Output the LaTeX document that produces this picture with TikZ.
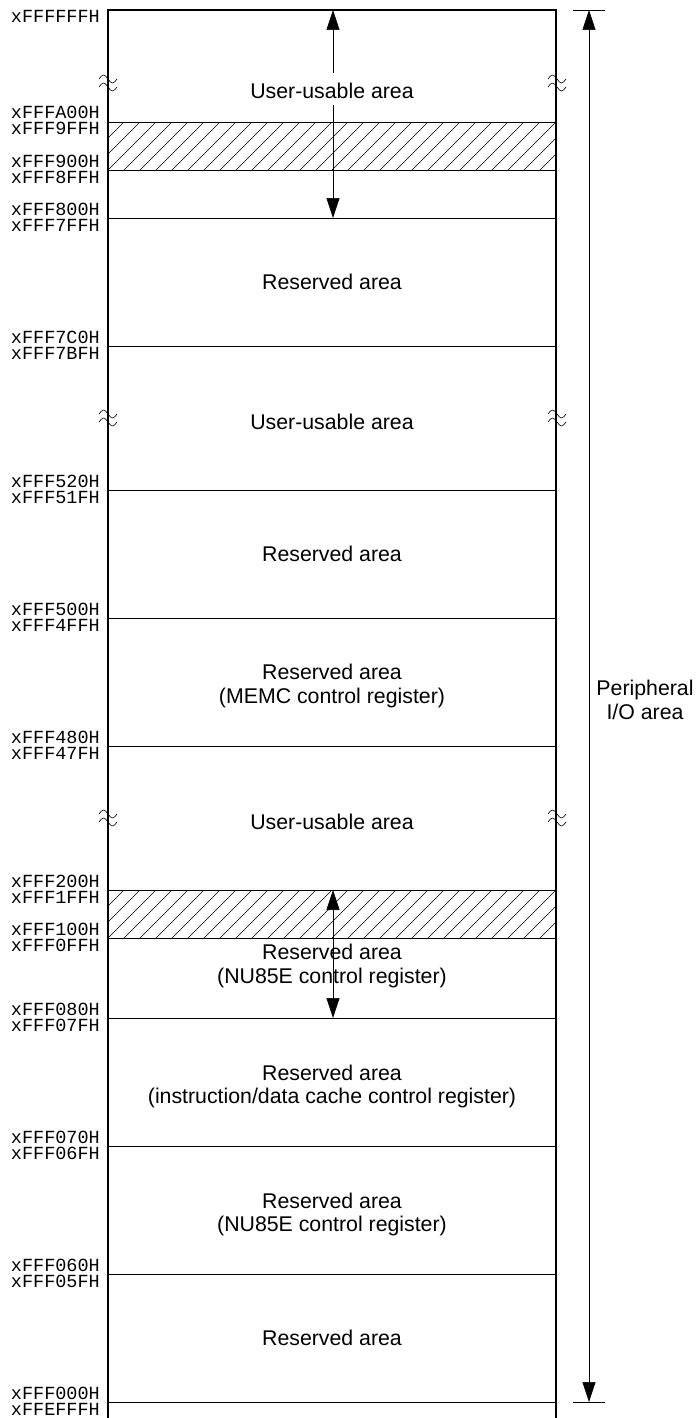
\documentclass[tikz,border=0pt]{standalone}
\usepackage{fontspec}
\setmainfont{Liberation Sans}
\newfontfamily\addrfont{Liberation Mono}
\usetikzlibrary{arrows.meta}
\begin{document}
\begin{tikzpicture}[x=1pt,y=-1pt,
  frame/.style={line width=1.8pt},
  sepline/.style={line width=0.8pt},
  area/.style={font=\fontsize{21.3}{23.5}\selectfont, align=center, inner sep=0pt},
  addr/.style={font=\addrfont\fontsize{18.5}{18.5}\selectfont, anchor=base east, inner sep=0pt},
  tip/.tip={Triangle[width=13pt,length=20pt]},
  dimline/.style={line width=0.6pt, draw=black},
  hatchline/.style={line width=0.5pt},
  brkline/.style={line width=0.6pt},
  brkmark/.pic={
    \draw[brkline] (-9,-4) sin (-4.5,-8) cos (0,-4) sin (4.5,0) cos (9,-4);
    \draw[brkline] (-9,4) sin (-4.5,0) cos (0,4) sin (4.5,8) cos (9,4);
  }]
\useasboundingbox (0,0) rectangle (696,1418);

% hatched bands
\foreach \ya/\yb in {122/170, 890/938}{
  \begin{scope}
    \clip (108,\ya) rectangle (556,\yb);
    \foreach \x in {44,60,...,572} \draw[hatchline] (\x,\yb) -- (\x+48,\ya);
  \end{scope}
}

% separator lines
\foreach \y in {122,170,218,346,490,618,746,890,938,1018,1146,1274,1402}
  \draw[sepline] (108,\y) -- (556,\y);

% frame
\draw[frame] (108,1418) -- (108,10) -- (556,10) -- (556,1418);

% break marks
\foreach \y in {83,418,818}{
  \pic at (108,\y) {brkmark};
  \pic at (557,\y) {brkmark};
}

% address labels
\node[addr] (a0) at (100,23) {xFFFFFFH};
\foreach \y/\up/\lo in {122/xFFFA00H/xFFF9FFH, 170/xFFF900H/xFFF8FFH, 218/xFFF800H/xFFF7FFH,
  346/xFFF7C0H/xFFF7BFH, 490/xFFF520H/xFFF51FH, 618/xFFF500H/xFFF4FFH, 746/xFFF480H/xFFF47FH,
  890/xFFF200H/xFFF1FFH, 938/xFFF100H/xFFF0FFH, 1018/xFFF080H/xFFF07FH, 1146/xFFF070H/xFFF06FH,
  1274/xFFF060H/xFFF05FH, 1402/xFFF000H/xFFEFFFH}{
  \node[addr] (u\y) at (100,\y-3) {\up};
  \node[addr] (l\y) at (100,\y+13) {\lo};
}

% area texts
\node[area, anchor=base] (t1) at (332,99) {User-usable area};
\node[area, anchor=base] (t2) at (332,289) {Reserved area};
\node[area, anchor=base] (t3) at (332,429) {User-usable area};
\node[area, anchor=base] (t4) at (332,561) {Reserved area};
\node[area] (t5) at (332,686) {Reserved area\\(MEMC control register)};
\node[area] (t7) at (332,1086.5) {Reserved area\\(instruction/data cache control register)};
\node[area] (t8) at (332,1214.5) {Reserved area\\(NU85E control register)};
\node[area, anchor=base] (t9) at (332,1345) {Reserved area};
\node[area, anchor=base] (t10) at (332,829) {User-usable area};

% upper inner arrow (broken around text)
\coordinate (ua) at (333,10);
\coordinate (ua1) at (333,73);
\coordinate (ub1) at (333,105);
\coordinate (ub) at (333,218);
\draw[dimline, tip-] (ua) -- (ua1);
\draw[dimline, -tip] (ub1) -- (ub);

% lower inner arrow
\coordinate (la) at (333,890);
\coordinate (lb) at (333,1018);
\draw[dimline, tip-tip] (la) -- (lb);
\node[area] (t6) at (332,966) {Reserved area\\(NU85E control register)};

% peripheral I/O arrow
\coordinate (pt1) at (573,10);
\coordinate (pt2) at (605,10);
\coordinate (pb1) at (573,1402);
\coordinate (pb2) at (605,1402);
\coordinate (pa) at (589,10);
\coordinate (pb) at (589,1402);
\draw[line width=0.8pt] (pt1) -- (pt2);
\draw[line width=0.8pt] (pb1) -- (pb2);
\draw[dimline, tip-tip] (pa) -- (pb);
\node[area] (pio) at (645,700) {Peripheral\\I/O area};
\end{tikzpicture}
\end{document}
